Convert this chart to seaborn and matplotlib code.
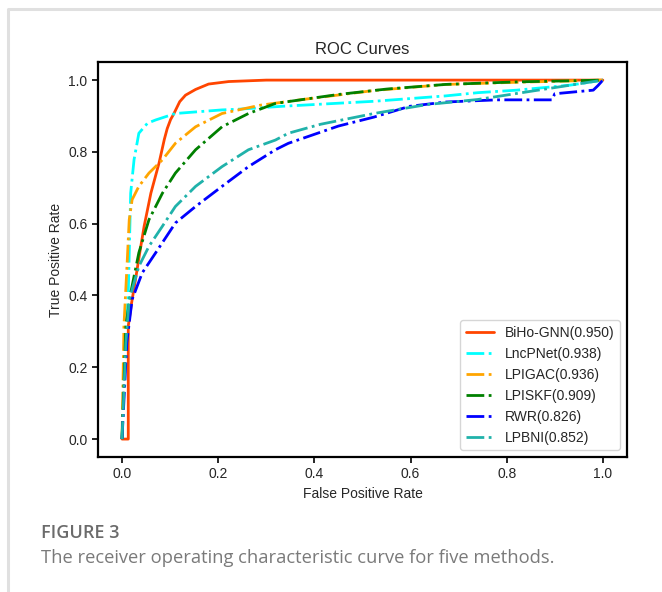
import pandas as pd
import matplotlib.pyplot as plt
import seaborn as sns
from matplotlib.lines import Line2D

sns.set_style('white')
plt.rcParams['font.family'] = 'sans-serif'
plt.rcParams['font.sans-serif'] = ['Liberation Sans', 'DejaVu Sans']

# ===== ROC points =====
biho_fpr = [0.0, 0.013, 0.013, 0.02, 0.028, 0.037, 0.046, 0.06, 0.077, 0.088, 0.094, 0.101, 0.108, 0.12, 0.132, 0.153, 0.18, 0.222, 0.3, 0.5, 1.0]
biho_tpr = [0.0, 0.0, 0.315, 0.38, 0.444, 0.52, 0.593, 0.685, 0.769, 0.835, 0.865, 0.89, 0.907, 0.94, 0.958, 0.974, 0.989, 0.996, 1.0, 1.0, 1.0]

lnc_fpr = [0.0, 0.004, 0.013, 0.018, 0.025, 0.035, 0.053, 0.07, 0.111, 0.208, 0.243, 0.332, 0.524, 0.673, 0.74, 0.821, 0.932, 1.0]
lnc_tpr = [0.0, 0.2, 0.407, 0.685, 0.778, 0.852, 0.88, 0.889, 0.907, 0.917, 0.919, 0.927, 0.941, 0.956, 0.965, 0.972, 0.986, 1.0]

gac_fpr = [0.0, 0.004, 0.011, 0.015, 0.021, 0.035, 0.056, 0.084, 0.111, 0.153, 0.208, 0.287, 0.376, 0.524, 0.673, 0.821, 1.0]
gac_tpr = [0.0, 0.315, 0.5, 0.611, 0.667, 0.704, 0.741, 0.778, 0.824, 0.87, 0.907, 0.93, 0.946, 0.971, 0.988, 0.994, 1.0]

skf_fpr = [0.0, 0.008, 0.018, 0.035, 0.056, 0.084, 0.111, 0.153, 0.208, 0.263, 0.319, 0.376, 0.45, 0.55, 0.673, 0.821, 1.0]
skf_tpr = [0.0, 0.315, 0.407, 0.519, 0.611, 0.685, 0.741, 0.806, 0.87, 0.907, 0.935, 0.946, 0.96, 0.975, 0.988, 0.995, 1.0]

rwr_fpr = [0.0, 0.01, 0.021, 0.042, 0.07, 0.111, 0.153, 0.208, 0.263, 0.319, 0.346, 0.45, 0.524, 0.598, 0.673, 0.78, 0.894, 0.9, 0.98, 0.99, 1.0]
rwr_tpr = [0.0, 0.269, 0.389, 0.463, 0.519, 0.602, 0.648, 0.704, 0.759, 0.806, 0.824, 0.872, 0.897, 0.927, 0.939, 0.945, 0.945, 0.962, 0.972, 0.985, 1.0]

bni_fpr = [0.0, 0.008, 0.015, 0.035, 0.056, 0.084, 0.111, 0.153, 0.208, 0.263, 0.319, 0.346, 0.413, 0.524, 0.635, 0.74, 1.0]
bni_tpr = [0.0, 0.269, 0.389, 0.481, 0.537, 0.593, 0.648, 0.704, 0.759, 0.806, 0.833, 0.852, 0.877, 0.907, 0.932, 0.946, 1.0]

methods = ['BiHo-GNN(0.950)', 'LncPNet(0.938)', 'LPIGAC(0.936)', 'LPISKF(0.909)', 'RWR(0.826)', 'LPBNI(0.852)']
curves = [(biho_fpr, biho_tpr), (lnc_fpr, lnc_tpr), (gac_fpr, gac_tpr),
          (skf_fpr, skf_tpr), (rwr_fpr, rwr_tpr), (bni_fpr, bni_tpr)]
colors = ['orangered', 'cyan', 'orange', 'green', 'blue', 'lightseagreen']
styles = ['-', '-.', '-.', '-.', '-.', '-.']

fig = plt.figure(figsize=(6.62, 5.92), dpi=100)
# 页面的浅灰色边框（只有左边和上边可见）
fig.lines.append(Line2D([8 / 662, 8 / 662, 1.0], [0.0, 1 - 9 / 592, 1 - 9 / 592],
                        transform=fig.transFigure, color='#e0e0e0', linewidth=2.2))

ax = fig.add_axes([0.148, 0.228, 0.799, 0.667])
for name, (fpr, tpr), c, ls in zip(methods, curves, colors, styles):
    df = pd.DataFrame({'fpr': fpr, 'tpr': tpr})
    sns.lineplot(data=df, x='fpr', y='tpr', ax=ax, color=c, linestyle=ls,
                 linewidth=2, estimator=None, sort=False, label=name)

ax.set_xticks([0.0, 0.2, 0.4, 0.6, 0.8, 1.0])
ax.set_yticks([0.0, 0.2, 0.4, 0.6, 0.8, 1.0])
ax.set_xlim(-0.05, 1.05)
ax.set_ylim(-0.05, 1.05)
ax.tick_params(axis='both', labelsize=10, length=4, width=1.2, color='black', left=True, bottom=True)
for s in ax.spines.values():
    s.set_color('black')
    s.set_linewidth(1.6)
ax.set_title('ROC Curves', fontsize=12)
ax.set_xlabel('False Positive Rate', fontsize=10)
ax.set_ylabel('True Positive Rate', fontsize=10)
ax.legend(loc='lower right', fontsize=10, frameon=True)

fig.text(41 / 662, 1 - 533 / 592, 'FIGURE 3', fontsize=13, color='#6b6b6b', va='center',
         family=['Open Sans', 'DejaVu Sans'], fontweight='semibold')
fig.text(41 / 662, 1 - 558 / 592, 'The receiver operating characteristic curve for five methods.',
         fontsize=13.2, color='#7a7a7a', va='center', family=['Open Sans', 'DejaVu Sans'])

plt.savefig('out.png', dpi=100)
